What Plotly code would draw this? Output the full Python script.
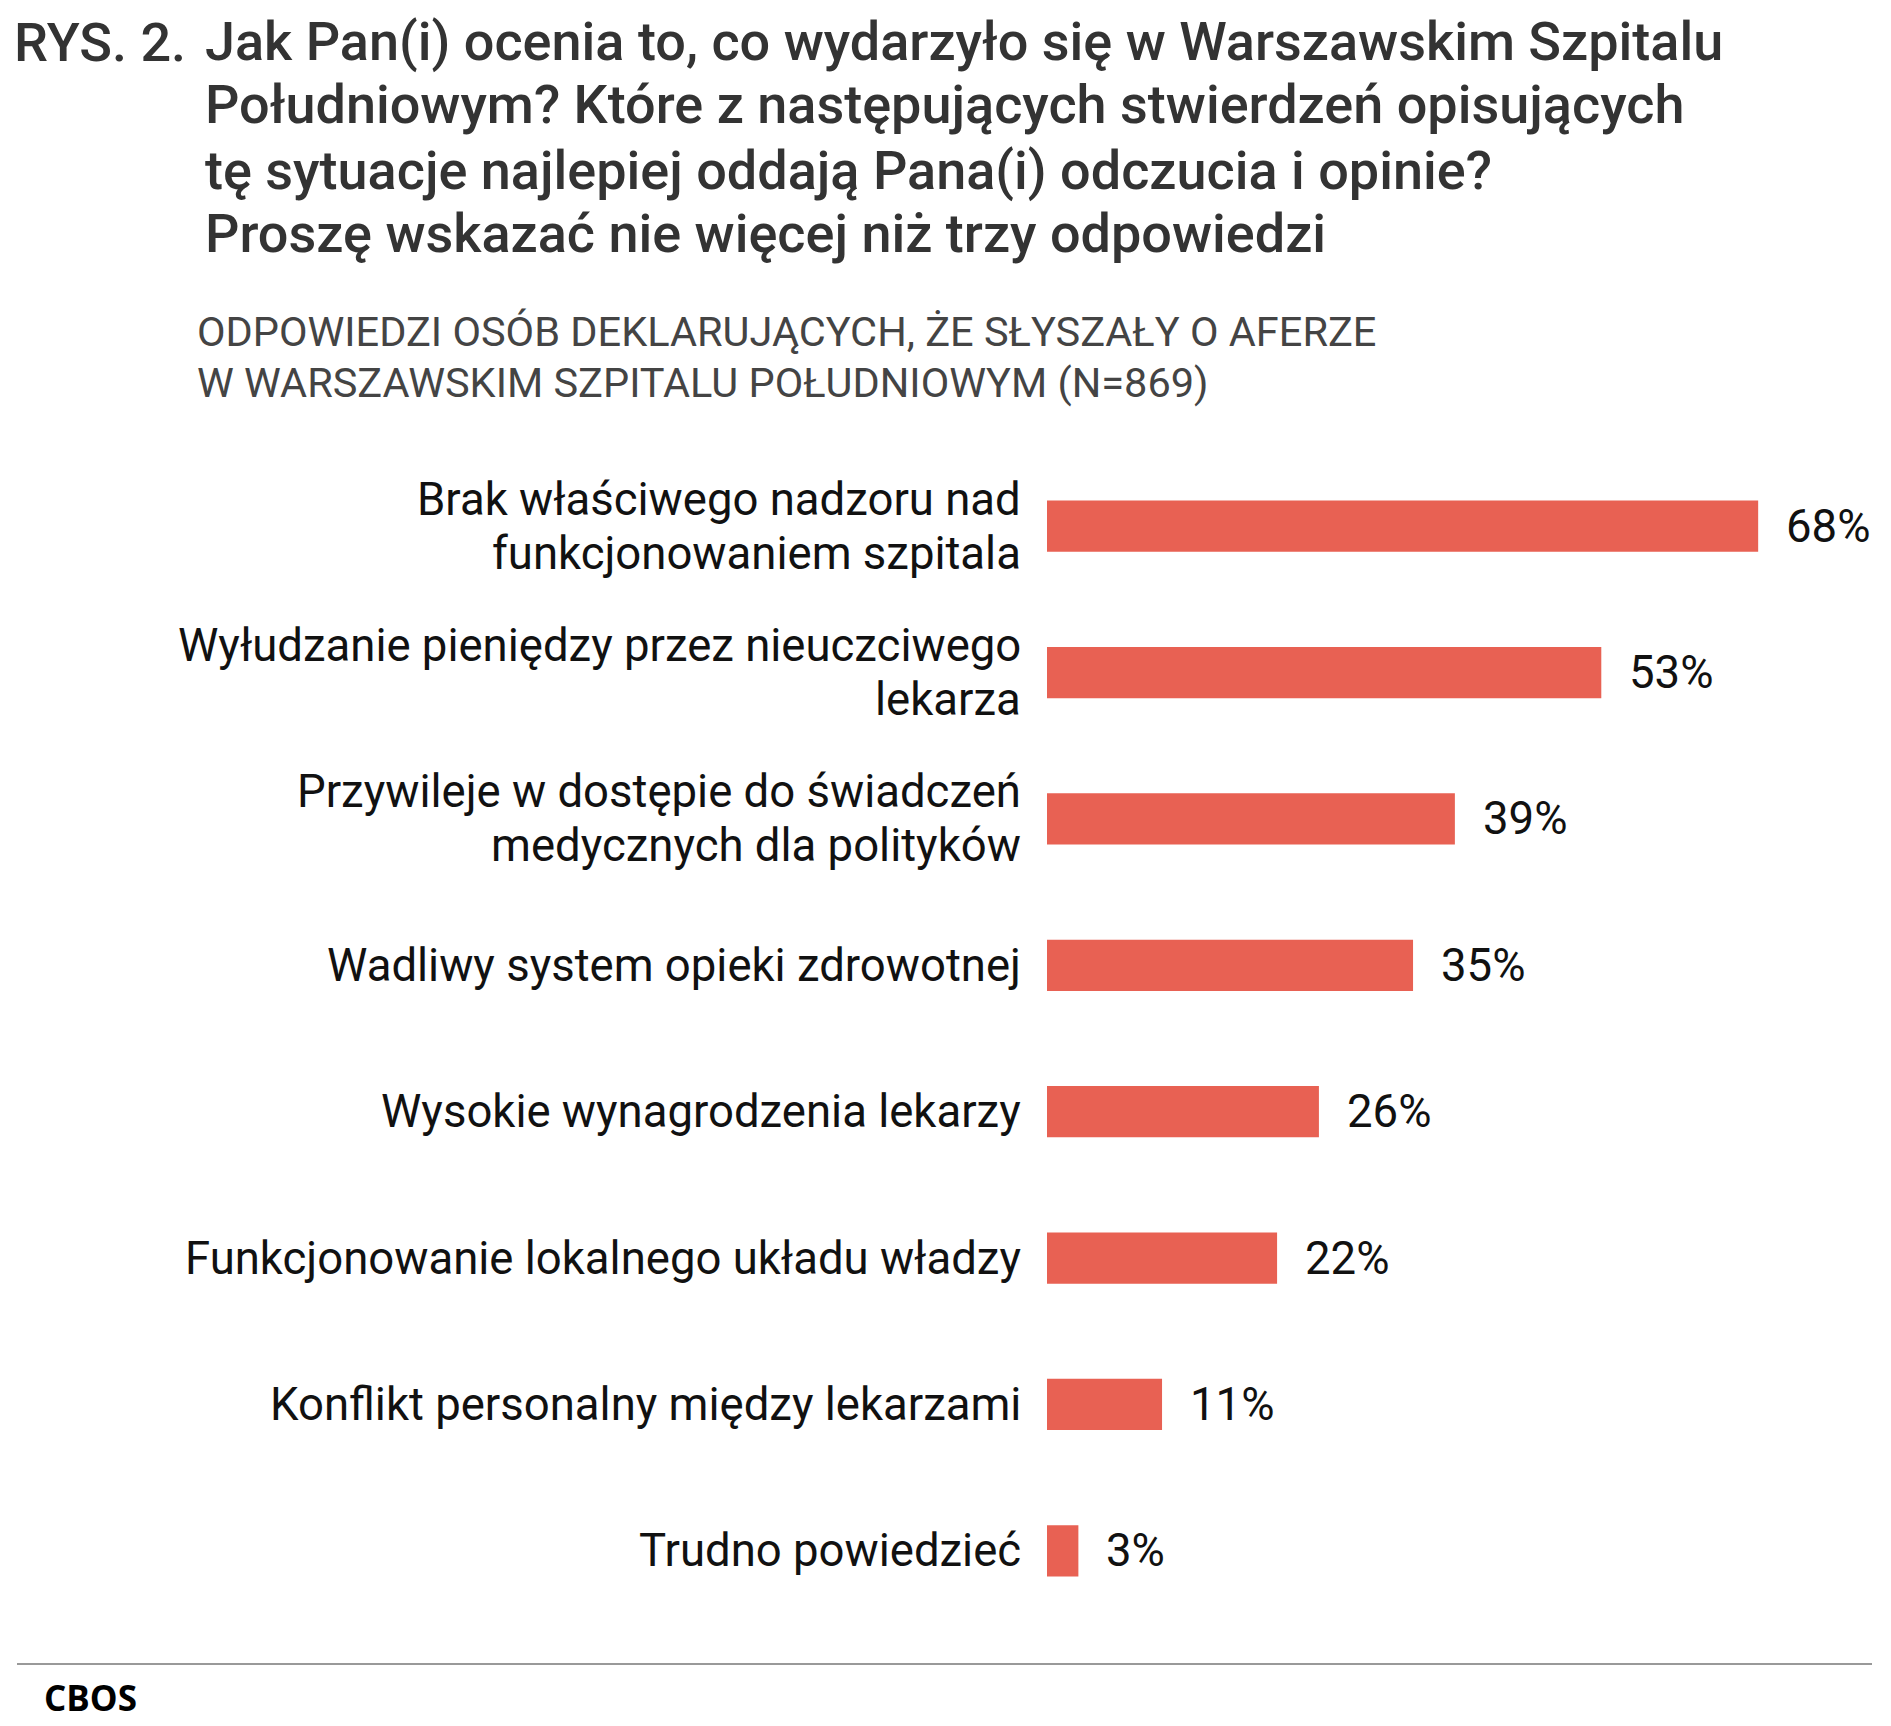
import plotly.graph_objects as go

categories = [
    "Brak właściwego nadzoru nad<br>funkcjonowaniem szpitala",
    "Wyłudzanie pieniędzy przez nieuczciwego<br>lekarza",
    "Przywileje w dostępie do świadczeń<br>medycznych dla polityków",
    "Wadliwy system opieki zdrowotnej",
    "Wysokie wynagrodzenia lekarzy",
    "Funkcjonowanie lokalnego układu władzy",
    "Konflikt personalny między lekarzami",
    "Trudno powiedzieć",
]
values = [68, 53, 39, 35, 26, 22, 11, 3]
value_labels = [f"{v}%" for v in values]

title_prefix = "RYS. 2."
title_lines = [
    "Jak Pan(i) ocenia to, co wydarzyło się w Warszawskim Szpitalu",
    "Południowym? Które z następujących stwierdzeń opisujących",
    "tę sytuacje najlepiej oddają Pana(i) odczucia i opinie?",
    "Proszę wskazać nie więcej niż trzy odpowiedzi",
]
subtitle_lines = [
    "ODPOWIEDZI OSÓB DEKLARUJĄCYCH, ŻE SŁYSZAŁY O AFERZE",
    "W WARSZAWSKIM SZPITALU POŁUDNIOWYM (N=869)",
]
source = "CBOS"

BAR_COLOR = "#E86153"
LABEL_SIZE = 45.5
LINE_GAP = 54  # px between lines of a two-line category label

fig = go.Figure()
fig.add_trace(go.Bar(
    x=values, y=categories, orientation="h",
    marker=dict(color=BAR_COLOR, line=dict(width=0)),
    width=0.35, hoverinfo="skip",
))

label_font = dict(family="Roboto", size=LABEL_SIZE, color="#111")
for v, c, t in zip(values, categories, value_labels):
    fig.add_annotation(x=v, y=c, text=t, showarrow=False, xanchor="left",
                       xshift=26, font=label_font)
    parts = c.split("<br>")
    n = len(parts)
    for k, part in enumerate(parts):
        fig.add_annotation(x=0, y=c, text=part, showarrow=False, xanchor="right",
                           yanchor="middle", xshift=-24,
                           yshift=((n - 1) / 2 - k) * LINE_GAP, font=label_font)

W, H = 1891, 1726
L, R, T, B = 1047, 91, 453, 102

fig.update_layout(
    width=W, height=H, autosize=False,
    margin=dict(l=L, r=R, t=T, b=B),
    paper_bgcolor="white", plot_bgcolor="white",
    showlegend=False,
    font=dict(family="Roboto", color="#111"),
    xaxis=dict(range=[0, 72], visible=False, fixedrange=True),
    yaxis=dict(autorange=False, range=[7.5, -0.5], showgrid=False, zeroline=False,
               showline=False, ticks="", showticklabels=False),
)

def px_x(px):
    return (px - L) / (W - L - R)

def px_y(py):
    return 1 - (py - T) / (H - T - B)

title_font = dict(family="Roboto", size=54, color="#333", weight=500)
fig.add_annotation(xref="paper", yref="paper", x=px_x(12), y=px_y(42), text=title_prefix,
                   showarrow=False, xanchor="left", yanchor="middle", font=title_font)
for line, yc in zip(title_lines, [41, 105, 170, 234]):
    fig.add_annotation(xref="paper", yref="paper", x=px_x(203), y=px_y(yc), text=line,
                       showarrow=False, xanchor="left", yanchor="middle", font=title_font)
for line, yc in zip(subtitle_lines, [332, 382]):
    fig.add_annotation(xref="paper", yref="paper", x=px_x(195), y=px_y(yc), text=line,
                       showarrow=False, xanchor="left", yanchor="middle",
                       font=dict(family="Roboto", size=41.5, color="#444"))
fig.add_shape(type="line", xref="paper", yref="paper", x0=px_x(17), x1=px_x(1872),
              y0=px_y(1664), y1=px_y(1664), line=dict(color="#999", width=2))
fig.add_annotation(xref="paper", yref="paper", x=px_x(42), y=px_y(1697), text=f"<b>{source}</b>",
                   showarrow=False, xanchor="left", yanchor="middle",
                   font=dict(family="Open Sans", size=35, color="#000"))

fig.write_html("out.html")
